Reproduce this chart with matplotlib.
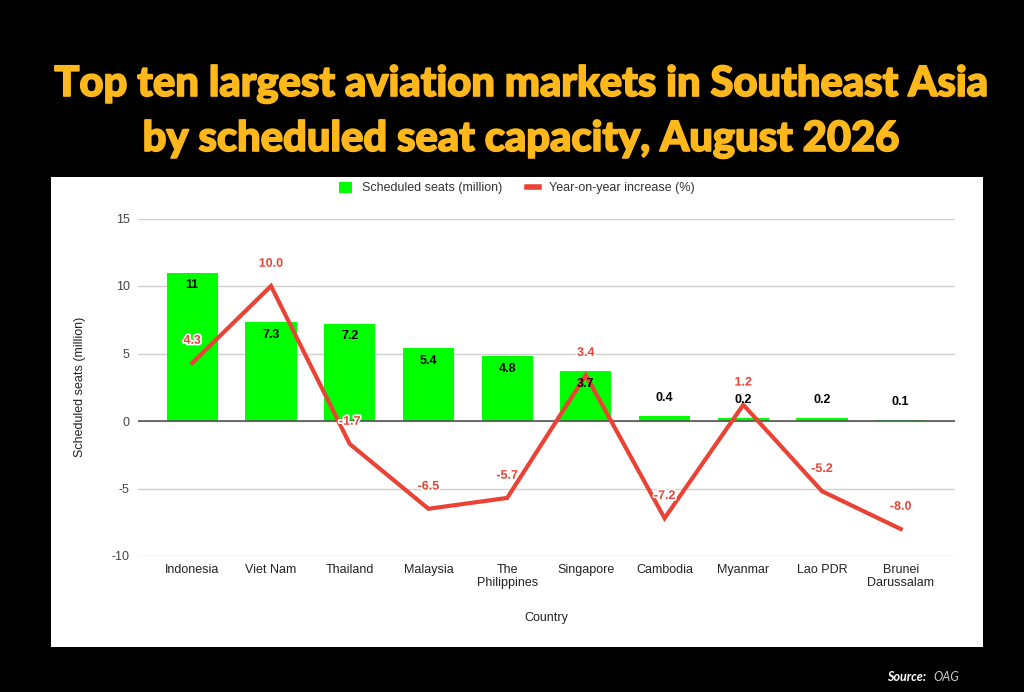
import matplotlib.pyplot as plt
import matplotlib.patheffects as pe
from matplotlib.lines import Line2D
from matplotlib.patches import Patch, Rectangle
import numpy as np

countries = ["Indonesia", "Viet Nam", "Thailand", "Malaysia", "The\nPhilippines",
             "Singapore", "Cambodia", "Myanmar", "Lao PDR", "Brunei\nDarussalam"]
seats = [11, 7.3, 7.2, 5.4, 4.8, 3.7, 0.4, 0.2, 0.2, 0.1]
seat_labels = ["11", "7.3", "7.2", "5.4", "4.8", "3.7", "0.4", "0.2", "0.2", "0.1"]
yoy = [4.3, 10.0, -1.7, -6.5, -5.7, 3.4, -7.2, 1.2, -5.2, -8.0]

GREEN = "#00ff00"
RED = "#ea4335"
YELLOW = "#ffb81c"
W, H = 1024, 692

plt.rcParams['font.family'] = ['Liberation Sans', 'DejaVu Sans']
plt.rcParams['axes.unicode_minus'] = False

fig = plt.figure(figsize=(W / 100, H / 100), dpi=100, facecolor="black")

# white chart panel
fig.patches.append(Rectangle((51 / W, 1 - 647 / H), 932 / W, 470 / H,
                             transform=fig.transFigure, facecolor="white",
                             edgecolor="none", zorder=-5))

# title
title_font = dict(family=['Lato', 'DejaVu Sans'], weight='black', color=YELLOW,
                  fontsize=30, ha='center', va='baseline',
                  path_effects=[pe.withStroke(linewidth=1.2, foreground=YELLOW)])
fig.text(0.508, 1 - 96 / H, "Top ten largest aviation markets in Southeast Asia", **title_font)
fig.text(0.508, 1 - 151 / H, "by scheduled seat capacity, August 2026", **title_font)

ax = fig.add_axes([138 / W, 1 - 556 / H, 817 / W, 337.5 / H])
ax.set_facecolor("none")
x = np.arange(len(countries))

ax.bar(x, seats, width=0.65, color=GREEN, zorder=2)
ax.plot(x, yoy, color=RED, lw=3, zorder=3, solid_joinstyle='miter')

# bar labels
for xi, v, lab in zip(x, seats, seat_labels):
    if v > 1:
        ax.annotate(lab, (xi, v), xytext=(0, -9), textcoords='offset points',
                    ha='center', va='center', fontsize=9, fontweight='bold',
                    color='black', zorder=5)
    else:
        ax.annotate(lab, (xi, v), xytext=(0, 13), textcoords='offset points',
                    ha='center', va='center', fontsize=9, fontweight='bold',
                    color='black', zorder=5)

# line labels
for xi, v in zip(x, yoy):
    ax.annotate(f"{v:.1f}", (xi, v), xytext=(0, 16), textcoords='offset points',
                ha='center', va='center', fontsize=9, fontweight='bold', color=RED,
                zorder=6, path_effects=[pe.withStroke(linewidth=2.5, foreground='white')])

ax.set_xlim(-0.69, 9.69)
ax.set_ylim(-10, 15)
ax.set_yticks([-10, -5, 0, 5, 10, 15])
ax.set_xticks(x)
ax.set_xticklabels(countries, fontsize=9, color="#222222", linespacing=1.1)
ax.tick_params(axis='y', labelsize=9, colors="#444444", length=0, pad=6)
ax.tick_params(axis='x', length=0, pad=6)
for s in ax.spines.values():
    s.set_visible(False)
ax.grid(axis='y', color="#d0d0d0", lw=1, zorder=0)
ax.axhline(0, color="#555555", lw=1.2, zorder=2.5)

ax.set_ylabel("Scheduled seats (million)", fontsize=9, color="#222222")
ax.yaxis.set_label_coords(-0.0636, 0.5)
ax.set_xlabel("Country", fontsize=9, color="#222222")
ax.xaxis.set_label_coords(0.5, -0.166)

handles = [Patch(facecolor=GREEN, edgecolor='none'),
           Line2D([], [], color=RED, lw=4)]
fig.legend(handles, ["Scheduled seats (million)", "Year-on-year increase (%)"],
           loc='center', bbox_to_anchor=(517 / W, 1 - 188 / H), ncol=2, frameon=False,
           fontsize=9, handlelength=1.0, handleheight=1.0, columnspacing=2.0,
           handletextpad=0.8, labelcolor="#333333")

# source
fig.text(926 / W, 1 - 677 / H, "Source:", color="white", fontsize=9,
         fontweight='bold', fontstyle='italic', ha='right', va='center',
         family=['Lato', 'DejaVu Sans'])
fig.text(933 / W, 1 - 677 / H, "OAG", color="#cccccc", fontsize=9,
         fontstyle='italic', ha='left', va='center', family=['Lato', 'DejaVu Sans'])

fig.savefig("out.png", dpi=100, facecolor="black")
